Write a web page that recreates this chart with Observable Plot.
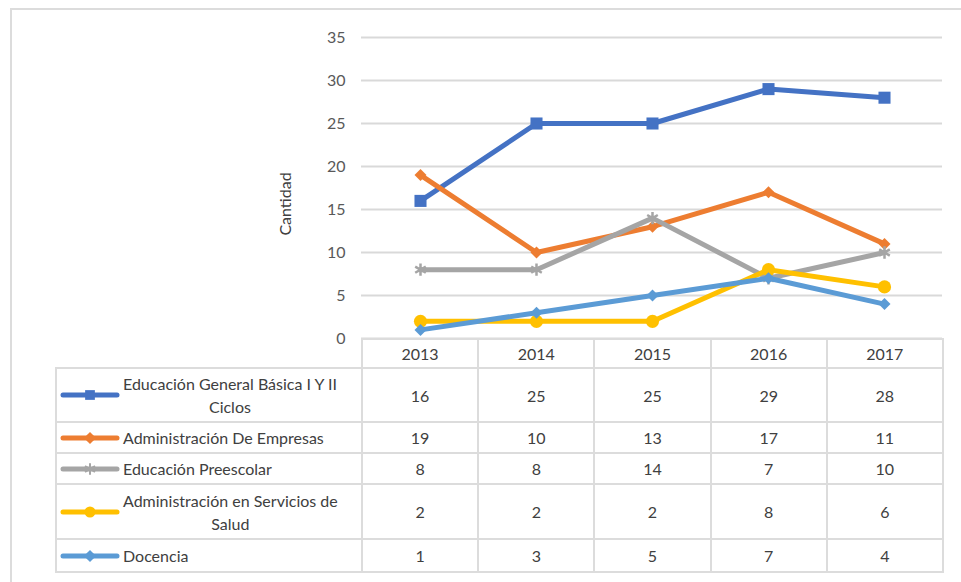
<!DOCTYPE html>
<html>
<head>
<meta charset="utf-8">
<script src="https://cdn.jsdelivr.net/npm/d3@7"></script>
<script src="https://cdn.jsdelivr.net/npm/@observablehq/plot@0.6"></script>
<style>
  html, body { margin:0; padding:0; background:#fff; }
  body { width:961px; height:582px; overflow:hidden; position:relative; font-family: Lato, "Open Sans", sans-serif; }
  #frame { position:absolute; left:10px; top:8px; width:1000px; height:700px; border:2px solid #dcdcdc; box-sizing:border-box; }
  #chart { position:absolute; left:0; top:0; }
  #tbl { position:absolute; left:55px; top:338px; border-collapse:collapse; table-layout:fixed; font-size:16px; color:#404040; }
  #tbl td { border:2px solid #dcdcdc; padding:0; text-align:center; vertical-align:middle; }
  #tbl td.blank { border-top:none; border-left:none; }
  .key { display:flex; align-items:center; }
  .key svg { flex:none; margin-left:3px; }
  .key span { display:inline-block; text-align:center; margin-left:3px; line-height:23px; }
</style>
</head>
<body>
<div id="frame"></div>
<div id="chart"></div>
<table id="tbl"></table>
<script>
const years = ["2013", "2014", "2015", "2016", "2017"];
const seriesNames = [
  "Educación General Básica I Y II Ciclos",
  "Administración De Empresas",
  "Educación Preescolar",
  "Administración en Servicios de Salud",
  "Docencia"
];
const seriesLabelLines = [
  ["Educación General Básica I Y II", "Ciclos"],
  ["Administración De Empresas"],
  ["Educación Preescolar"],
  ["Administración en Servicios de", "Salud"],
  ["Docencia"]
];
const eduBasica = [16, 25, 25, 29, 28];
const adminEmpresas = [19, 10, 13, 17, 11];
const eduPreescolar = [8, 8, 14, 7, 10];
const adminSalud = [2, 2, 2, 8, 6];
const docencia = [1, 3, 5, 7, 4];
const yTicks = [0, 5, 10, 15, 20, 25, 30, 35];

const seriesValues = [eduBasica, adminEmpresas, eduPreescolar, adminSalud, docencia];
const colors = ["#4472C4", "#ED7D31", "#A5A5A5", "#FFC000", "#5B9BD5"];
const symbols = ["square", "diamond2", "asterisk", "circle", "diamond2"];
const radii = [6.8, 5.4, 5.8, 6.6, 5.4];

const rows = seriesNames.flatMap((s, i) => years.map((y, j) => ({series: s, year: y, value: seriesValues[i][j], idx: i})));

const marks = [
  Plot.gridY(yTicks, {stroke: "#d9d9d9", strokeOpacity: 1, strokeWidth: 2}),
  Plot.axisY(yTicks, {tickSize: 0, tickPadding: 16, fontSize: 16, fill: "#595959", label: null}),
  Plot.text(["Cantidad"], {frameAnchor: "left", textAnchor: "middle", dx: -76, dy: 16, rotate: -90, fontSize: 16, fill: "#404040"})
];
seriesNames.forEach((s, i) => {
  const d = rows.filter(r => r.idx === i);
  marks.push(Plot.line(d, {x: "year", y: "value", stroke: colors[i], strokeWidth: 5, curve: "linear"}));
  const sym = symbols[i];
  if (sym === "asterisk") {
    marks.push(Plot.dot(d, {x: "year", y: "value", symbol: sym, r: radii[i], stroke: colors[i], strokeWidth: 2.5}));
  } else {
    marks.push(Plot.dot(d, {x: "year", y: "value", symbol: sym, r: radii[i], fill: colors[i], stroke: "none"}));
  }
});

const chart = Plot.plot({
  width: 961,
  height: 339,
  marginLeft: 361,
  marginRight: 19,
  marginTop: 37,
  marginBottom: 1,
  style: {fontFamily: "Lato, 'Open Sans', sans-serif", background: "transparent", overflow: "visible"},
  x: {type: "point", domain: years, padding: 0.5, axis: null},
  y: {domain: [0, 35], axis: null},
  marks
});
document.getElementById("chart").appendChild(chart);

// data table
const tbl = d3.select("#tbl");
const colW = [306, 116.2, 116.2, 116.2, 116.2, 116.2];
const cg = tbl.append("colgroup");
colW.forEach(w => cg.append("col").style("width", w + "px"));
const rowH = [29, 54, 31, 31, 55, 33];
const hr = tbl.append("tr").style("height", rowH[0] + "px");
hr.append("td").attr("class", "blank");
years.forEach(y => hr.append("td").text(y));
seriesNames.forEach((s, i) => {
  const tr = tbl.append("tr").style("height", rowH[i + 1] + "px");
  const td = tr.append("td").style("text-align", "left");
  const key = td.append("div").attr("class", "key");
  const sv = key.append("svg").attr("width", 60).attr("height", 16);
  sv.append("line").attr("x1", 3).attr("x2", 57).attr("y1", 8).attr("y2", 8)
    .attr("stroke", colors[i]).attr("stroke-width", 5).attr("stroke-linecap", "round");
  const symMap = {square: d3.symbolSquare, diamond2: d3.symbolDiamond2, asterisk: d3.symbolAsterisk, circle: d3.symbolCircle};
  const p = sv.append("path").attr("transform", "translate(30,8)")
    .attr("d", d3.symbol(symMap[symbols[i]], Math.PI * 5.5 * 5.5)());
  if (symbols[i] === "asterisk") p.attr("fill", "none").attr("stroke", colors[i]).attr("stroke-width", 2);
  else p.attr("fill", colors[i]);
  key.append("span").html(seriesLabelLines[i].join("<br>"));
  seriesValues[i].forEach(v => tr.append("td").text(v));
});
</script>
</body>
</html>
